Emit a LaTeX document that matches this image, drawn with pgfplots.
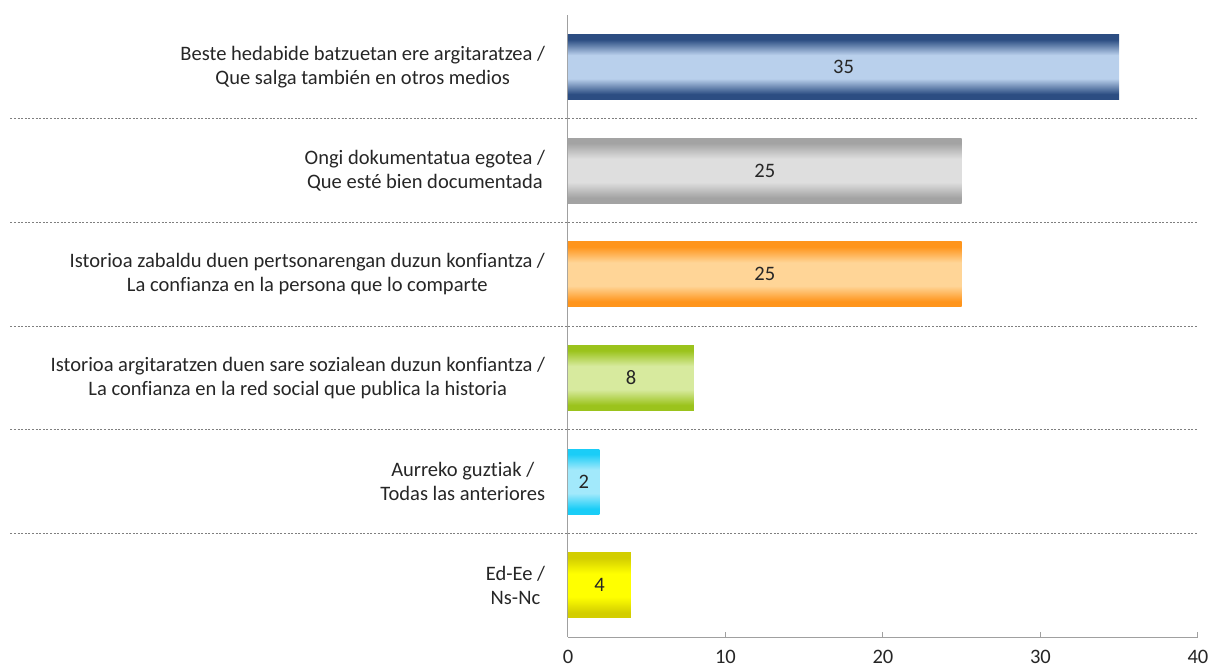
\documentclass[border=0pt]{standalone}
\usepackage{fontspec}
\setmainfont{Carlito}[RawFeature={-liga;-clig}]
\usepackage{pgfplots}
\usepackage{pgfplotstable}
\pgfplotsset{compat=1.18}
\definecolor{textc}{HTML}{262626}
\definecolor{axisgray}{HTML}{A0A0A0}
\definecolor{dashgray}{HTML}{7F7F7F}
\definecolor{bluedk}{HTML}{2C4D82}
\definecolor{bluelt}{HTML}{B9D0EC}
\definecolor{graydk}{HTML}{A3A3A3}
\definecolor{graylt}{HTML}{DEDEDE}
\definecolor{orgdk}{HTML}{FF951C}
\definecolor{orglt}{HTML}{FFD597}
\definecolor{grndk}{HTML}{9BC31C}
\definecolor{grnlt}{HTML}{D7EA9E}
\definecolor{cyndk}{HTML}{1ACDF7}
\definecolor{cynlt}{HTML}{A2E9FB}
\definecolor{ylwdk}{HTML}{D3CE00}
\definecolor{ylwlt}{HTML}{FFFF00}
\newcommand\mkshade[3]{\pgfdeclareverticalshading{#1}{100bp}{color(0bp)=(#2); color(25bp)=(#2); color(29bp)=(#2); color(41bp)=(#3); color(59bp)=(#3); color(71bp)=(#2); color(75bp)=(#2); color(100bp)=(#2)}}
\mkshade{shblue}{bluedk}{bluelt}
\mkshade{shgray}{graydk}{graylt}
\mkshade{shorg}{orgdk}{orglt}
\mkshade{shgrn}{grndk}{grnlt}
\mkshade{shcyn}{cyndk}{cynlt}
\mkshade{shylw}{ylwdk}{ylwlt}
\pgfplotstableread{
y v
5 35
4 25
3 25
2 8
1 2
0 4
}\datatable
\begin{document}
\begin{tikzpicture}
\path[use as bounding box] (-426pt,-24pt) rectangle (482.25pt,477.75pt);
\begin{axis}[
  at={(0,0)}, anchor=south west,
  scale only axis, width=472.5pt, height=466.5pt,
  xmin=0, xmax=40, ymin=-0.5, ymax=5.5,
  axis x line=bottom, axis y line=left,
  axis line style={-, draw=axisgray, line width=0.75pt},
  xtick={0,10,20,30,40},
  ytick={0,1,2,3,4,5},
  yticklabels={{Ed-Ee /\\Ns-Nc},
    {Aurreko guztiak /\\Todas las anteriores},
    {Istorioa argitaratzen duen sare sozialean duzun konfiantza /\\La confianza en la red social que publica la historia},
    {Istorioa zabaldu duen pertsonarengan duzun konfiantza /\\La confianza en la persona que lo comparte},
    {Ongi dokumentatua egotea /\\Que esté bien documentada},
    {Beste hedabide batzuetan ere argitaratzea /\\Que salga también en otros medios}},
  ytick style={draw=none},
  xtick style={draw=axisgray, line width=0.75pt},
  tick align=inside, major tick length=4pt,
  ticklabel style={font=\fontsize{15.4}{18}\selectfont, text=textc},
  yticklabel style={align=center, inner sep=0pt, xshift=-17pt},
  xticklabel style={yshift=-6pt},
  /pgf/number format/assume math mode=true,
  clip=false,
]
\addplot[xbar, bar width=48.75pt, bar shift=0pt, draw=none, shading=shblue] coordinates {(35,5)};
\addplot[xbar, bar width=48.75pt, bar shift=0pt, draw=none, shading=shgray] coordinates {(25,4)};
\addplot[xbar, bar width=48.75pt, bar shift=0pt, draw=none, shading=shorg] coordinates {(25,3)};
\addplot[xbar, bar width=48.75pt, bar shift=0pt, draw=none, shading=shgrn] coordinates {(8,2)};
\addplot[xbar, bar width=48.75pt, bar shift=0pt, draw=none, shading=shcyn] coordinates {(2,1)};
\addplot[xbar, bar width=48.75pt, bar shift=0pt, draw=none, shading=shylw] coordinates {(4,0)};
\addplot[draw=none, mark=none, nodes near coords, point meta=explicit,
  every node near coord/.style={anchor=center, font=\fontsize{15.4}{18}\selectfont, text=textc}]
  table[x expr=\thisrow{v}/2, y=y, meta=v] {\datatable};
\pgfplotsinvokeforeach{0.5,1.5,2.5,3.5,4.5}{
  \draw[dashgray, line width=0.6pt, dash pattern=on 1.5pt off 1.2pt] (axis cs:-35.4,#1) -- (axis cs:40,#1);
}
\end{axis}
\end{tikzpicture}
\end{document}
